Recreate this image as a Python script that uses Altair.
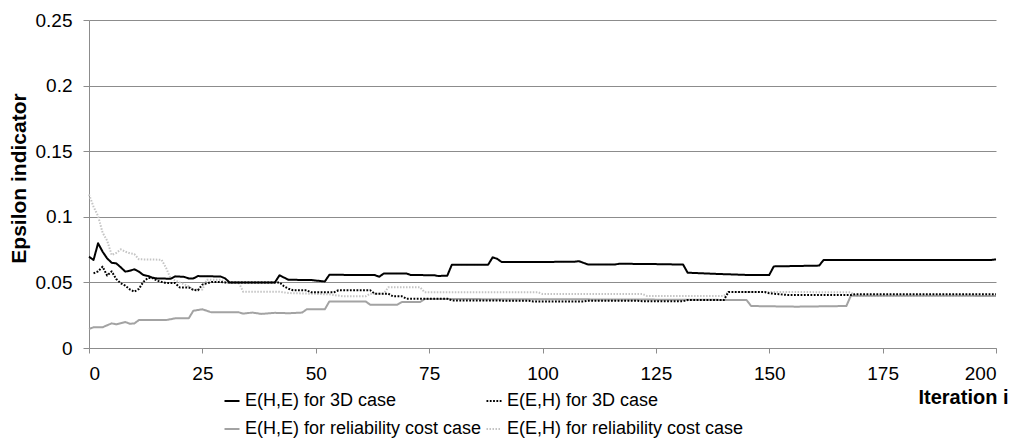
import altair as alt
import pandas as pd

FONT = "Liberation Sans"

# order: column-major legend fill -> col 1: first two, col 2: last two
series_names = [
    "E(H,E) for 3D case",
    "E(H,E) for reliability cost case",
    "E(E,H) for 3D case",
    "E(E,H) for reliability cost case",
]
series_colors = ["#000000", "#a3a3a3", "#000000", "#c4c4c4"]
series_dash = [[1, 0], [1, 0], [1.8, 1.5], [1.5, 1.5]]
series_width = [2, 2, 1.8, 1.5]

x_ticks = [0, 25, 50, 75, 100, 125, 150, 175, 200]
y_ticks = [0, 0.05, 0.1, 0.15, 0.2, 0.25]

# E(H,E) for 3D case (black solid)
a_iter = [0, 1, 2, 3, 4, 5, 6, 7, 8, 9, 10, 11, 12, 13, 14, 15, 18, 19, 21, 22, 23, 24, 29, 30, 31, 41,
          42, 43, 44, 49, 52, 53, 63, 64, 65, 70, 71, 76, 77, 79, 80, 88, 89, 90, 91, 107, 108, 110, 116,
          117, 124, 131, 132, 139, 145, 150, 151, 161, 162, 199, 200]
a_val = [0.0696, 0.0671, 0.0798, 0.0734, 0.0683, 0.0650, 0.0645, 0.0615, 0.0582, 0.0589, 0.0600, 0.0582,
         0.0556, 0.0549, 0.0536, 0.0530, 0.0528, 0.0546, 0.0542, 0.0530, 0.0530, 0.0548, 0.0545, 0.0531,
         0.0500, 0.0500, 0.0554, 0.0537, 0.0520, 0.0518, 0.0507, 0.0558, 0.0556, 0.0543, 0.0568, 0.0568,
         0.0556, 0.0555, 0.0549, 0.0551, 0.0634, 0.0634, 0.0691, 0.0680, 0.0655, 0.0657, 0.0662, 0.0637,
         0.0637, 0.0642, 0.0640, 0.0636, 0.0574, 0.0564, 0.0557, 0.0557, 0.0622, 0.0628, 0.0671, 0.0671,
         0.0676]

# E(E,H) for 3D case (black dotted)
c_iter = [1, 2, 3, 4, 5, 6, 7, 8, 9, 10, 11, 12, 13, 14, 15, 17, 19, 20, 22, 23, 24, 25, 27, 29, 30, 42,
          43, 44, 45, 48, 49, 54, 55, 62, 63, 66, 67, 69, 70, 79, 80, 97, 98, 109, 110, 121, 122, 131, 132,
          140, 141, 149, 150, 154, 168, 169, 200]
c_val = [0.0569, 0.0584, 0.0620, 0.0552, 0.0584, 0.0526, 0.0493, 0.0475, 0.0447, 0.0429, 0.0450, 0.0505,
         0.0534, 0.0534, 0.0513, 0.0495, 0.0495, 0.0462, 0.0462, 0.0442, 0.0440, 0.0483, 0.0503, 0.0503,
         0.0500, 0.0500, 0.0470, 0.0452, 0.0440, 0.0440, 0.0424, 0.0424, 0.0440, 0.0440, 0.0414, 0.0414,
         0.0394, 0.0394, 0.0376, 0.0376, 0.0363, 0.0360, 0.0354, 0.0354, 0.0360, 0.0360, 0.0356, 0.0356,
         0.0366, 0.0366, 0.0427, 0.0427, 0.0417, 0.0404, 0.0404, 0.0410, 0.0410]

# E(H,E) for reliability cost case (grey solid)
b_iter = [0, 1, 3, 5, 6, 8, 9, 10, 11, 17, 19, 22, 23, 25, 27, 33, 34, 36, 38, 41, 44, 47, 48, 52, 53, 61,
          62, 68, 69, 73, 74, 100, 145, 146, 156, 167, 168, 200]
b_val = [0.0145, 0.0158, 0.0158, 0.0188, 0.0180, 0.0198, 0.0185, 0.0187, 0.0213, 0.0213, 0.0226, 0.0226,
         0.0284, 0.0295, 0.0272, 0.0272, 0.0262, 0.0270, 0.0260, 0.0268, 0.0265, 0.0270, 0.0295, 0.0295,
         0.0355, 0.0355, 0.0330, 0.0330, 0.0350, 0.0350, 0.0373, 0.0372, 0.0366, 0.0320, 0.0315, 0.0320,
         0.0399, 0.0397]

# E(E,H) for reliability cost case (light grey dotted)
d_iter = [0, 1, 2, 3, 4, 5, 6, 7, 8, 9, 10, 11, 16, 17, 18, 22, 23, 25, 26, 29, 30, 33, 34, 42, 44, 53,
          56, 61, 62, 65, 66, 73, 74, 99, 100, 122, 123, 140, 141, 149, 168, 169, 200]
d_val = [0.1170, 0.1077, 0.1006, 0.0879, 0.0818, 0.0709, 0.0724, 0.0752, 0.0734, 0.0722, 0.0716, 0.0676,
         0.0673, 0.0610, 0.0530, 0.0470, 0.0445, 0.0445, 0.0521, 0.0521, 0.0500, 0.0500, 0.0429, 0.0429,
         0.0419, 0.0409, 0.0394, 0.0394, 0.0414, 0.0414, 0.0463, 0.0463, 0.0425, 0.0425, 0.0412, 0.0412,
         0.0397, 0.0397, 0.0427, 0.0427, 0.0425, 0.0396, 0.0396]

A, B, C, D = series_names
frames = []
for name, xs, ys in [(A, a_iter, a_val), (B, b_iter, b_val), (C, c_iter, c_val), (D, d_iter, d_val)]:
    frames.append(pd.DataFrame({"iteration": xs, "epsilon": ys, "series": name}))
df = pd.concat(frames, ignore_index=True)

base = alt.Chart(df).mark_line(strokeCap="butt", strokeJoin="round").encode(
    x=alt.X(
        "iteration:Q",
        scale=alt.Scale(domain=[0, 200], nice=False, zero=False),
        axis=alt.Axis(
            values=x_ticks,
            title="Iteration i",
            grid=False,
            tickSize=5,
            labelPadding=11,
            titleX=919,
            titleY=55,
            titleAlign="right",
            titleBaseline="alphabetic",
        ),
    ),
    y=alt.Y(
        "epsilon:Q",
        scale=alt.Scale(domain=[0, 0.25], nice=False),
        axis=alt.Axis(
            values=y_ticks,
            format=".2~f",
            title="Epsilon indicator",
            tickSize=6,
            labelPadding=11,
            titleX=-70,
            titleY=158,
            titleAngle=270,
            titleAlign="center",
            titleBaseline="middle",
            titleFontSize=21,
        ),
    ),
    color=alt.Color(
        "series:N",
        scale=alt.Scale(domain=series_names, range=series_colors),
        legend=alt.Legend(
            title=None,
            orient="none",
            legendX=134,
            legendY=372,
            columns=2,
            columnPadding=0,
            rowPadding=10,
            symbolType="stroke",
            symbolSize=225,
            symbolStrokeWidth=2,
            labelOffset=4,
            labelLimit=500,
            labelFontSize=18,
            labelFont=FONT,
            labelColor="#000000",
            padding=0,
        ),
    ),
    strokeDash=alt.StrokeDash(
        "series:N",
        scale=alt.Scale(domain=series_names, range=series_dash),
    ),
    strokeWidth=alt.StrokeWidth(
        "series:N",
        scale=alt.Scale(domain=series_names, range=series_width),
        legend=None,
    ),
)

layers = [
    base.transform_filter(alt.datum.series == D),
    base.transform_filter(alt.datum.series == B),
    base.transform_filter(alt.datum.series == C),
    base.transform_filter(alt.datum.series == A),
]

chart = (
    alt.layer(*layers)
    .properties(
        width=907,
        height=328,
        autosize=alt.AutoSizeParams(type="none"),
        padding={"left": 89, "top": 20, "right": 20, "bottom": 93},
        background="white",
    )
    .configure_view(stroke=None)
    .configure_axis(
        labelFont=FONT,
        labelFontSize=19,
        labelColor="#000000",
        titleFont=FONT,
        titleFontSize=20,
        titleFontWeight="bold",
        titleColor="#000000",
        domainColor="#8c8c8c",
        tickColor="#8c8c8c",
        gridColor="#8c8c8c",
        domainWidth=1,
        tickWidth=1,
        gridWidth=1,
    )
)

chart.save("out.html", embed_options={"renderer": "svg", "actions": False})
